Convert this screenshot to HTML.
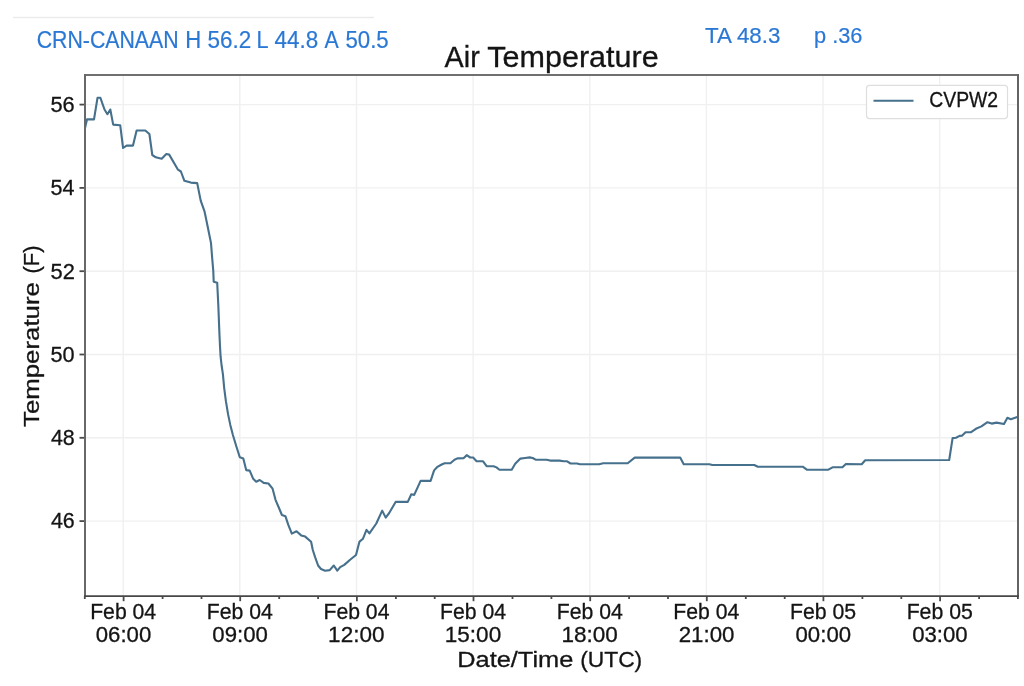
<!DOCTYPE html>
<html><head><meta charset="utf-8"><style>
html,body{margin:0;padding:0;background:#fff;width:1024px;height:686px;overflow:hidden}
svg{display:block;filter:blur(0.45px)}
text{font-family:"Liberation Sans",sans-serif}
</style></head><body>
<svg width="1024" height="686" viewBox="0 0 1024 686">
<rect width="1024" height="686" fill="#fff"/>
<line x1="13" y1="17.6" x2="374" y2="17.6" stroke="#ebebeb" stroke-width="1.5"/>
<g stroke="#f0f0f0" stroke-width="1.4"><line x1="85" y1="104.6" x2="1018" y2="104.6"/><line x1="85" y1="187.9" x2="1018" y2="187.9"/><line x1="85" y1="271.2" x2="1018" y2="271.2"/><line x1="85" y1="354.5" x2="1018" y2="354.5"/><line x1="85" y1="437.8" x2="1018" y2="437.8"/><line x1="85" y1="521.1" x2="1018" y2="521.1"/><line x1="123.2" y1="75" x2="123.2" y2="596"/><line x1="239.8" y1="75" x2="239.8" y2="596"/><line x1="356.5" y1="75" x2="356.5" y2="596"/><line x1="473.1" y1="75" x2="473.1" y2="596"/><line x1="589.8" y1="75" x2="589.8" y2="596"/><line x1="706.4" y1="75" x2="706.4" y2="596"/><line x1="823.0" y1="75" x2="823.0" y2="596"/><line x1="939.7" y1="75" x2="939.7" y2="596"/></g>
<path d="M85.0,128.0 L87.0,119.4 L94.0,119.4 L97.5,97.8 L100.4,97.8 L104.5,109.5 L107.4,114.2 L110.3,109.5 L113.2,124.6 L120.2,125.2 L123.1,148.0 L126.6,145.6 L133.0,145.6 L136.6,130.5 L145.3,130.5 L149.4,134.0 L152.3,155.0 L155.8,157.3 L161.7,158.7 L166.3,154.0 L169.2,154.6 L178.0,169.7 L180.9,171.5 L184.4,180.8 L190.8,182.6 L197.2,183.1 L200.7,200.6 L204.6,211.7 L207.5,225.7 L211.0,243.1 L212.2,258.3 L213.3,271.1 L213.7,281.7 L217.2,282.8 L218.3,305.0 L219.4,333.1 L220.0,346.2 L220.6,356.7 L221.6,365.5 L222.9,374.2 L224.2,388.1 L225.9,401.2 L228.1,414.4 L230.3,424.9 L232.9,435.0 L236.3,446.2 L239.8,457.2 L243.3,458.4 L246.2,470.1 L249.7,470.6 L253.2,478.8 L256.2,481.7 L259.7,480.0 L263.7,482.9 L268.4,483.5 L272.6,488.7 L275.5,499.8 L279.0,508.0 L281.9,515.0 L285.4,516.2 L288.3,524.9 L291.8,533.6 L296.5,531.3 L301.2,535.4 L305.2,536.6 L311.1,541.8 L312.8,550.0 L315.2,557.3 L318.1,565.5 L321.0,569.0 L325.1,570.7 L329.7,570.1 L333.8,565.5 L337.3,570.7 L340.2,567.2 L344.3,564.9 L350.1,559.7 L356.0,555.0 L359.5,541.6 L363.0,538.7 L366.5,529.9 L369.4,533.4 L376.3,523.5 L382.2,510.6 L385.7,517.6 L389.2,513.0 L395.6,501.9 L407.8,501.9 L411.3,494.3 L414.2,494.9 L420.6,480.9 L430.6,480.9 L434.1,470.4 L437.0,467.2 L441.7,464.5 L444.6,463.3 L450.4,463.3 L454.5,459.8 L457.4,458.4 L463.8,458.1 L466.7,455.2 L470.2,457.5 L473.1,457.5 L476.6,461.3 L483.1,461.3 L486.6,466.2 L493.6,466.2 L496.5,467.4 L499.4,469.7 L511.7,469.7 L515.2,463.8 L520.4,458.6 L525.1,458.0 L529.7,457.4 L532.7,458.0 L535.6,459.7 L546.6,459.7 L550.1,460.6 L559.5,460.6 L563.6,461.3 L567.1,461.3 L570.6,463.5 L577.0,463.5 L579.9,464.2 L599.2,464.2 L603.2,463.2 L627.7,463.2 L634.7,457.6 L680.2,457.6 L683.7,464.2 L709.4,464.2 L712.3,465.0 L754.3,465.0 L757.8,466.7 L802.7,466.7 L806.8,469.7 L828.4,469.7 L832.5,467.3 L842.4,467.3 L845.9,464.0 L861.7,464.2 L865.2,460.3 L949.2,460.0 L952.6,438.1 L956.0,437.7 L959.5,435.9 L962.2,435.6 L965.6,432.2 L971.1,432.2 L975.9,428.8 L981.4,426.4 L987.5,422.2 L991.7,423.6 L996.5,422.6 L1004.0,424.0 L1007.4,417.8 L1010.8,419.2 L1018.0,416.7" fill="none" stroke="#46708c" stroke-width="2.1" stroke-linejoin="round"/>
<rect x="866.5" y="85.4" width="141" height="33.2" rx="3" fill="#fff" stroke="#dedede" stroke-width="1.2"/>
<line x1="873.5" y1="100.7" x2="913.5" y2="100.7" stroke="#46708c" stroke-width="2.1"/>
<g stroke="#4a4a4a" stroke-width="1.8"><line x1="79.5" y1="104.6" x2="85" y2="104.6"/><line x1="79.5" y1="187.9" x2="85" y2="187.9"/><line x1="79.5" y1="271.2" x2="85" y2="271.2"/><line x1="79.5" y1="354.5" x2="85" y2="354.5"/><line x1="79.5" y1="437.8" x2="85" y2="437.8"/><line x1="79.5" y1="521.1" x2="85" y2="521.1"/><line x1="123.6" y1="596" x2="123.6" y2="601.2"/><line x1="240.2" y1="596" x2="240.2" y2="601.2"/><line x1="356.9" y1="596" x2="356.9" y2="601.2"/><line x1="473.5" y1="596" x2="473.5" y2="601.2"/><line x1="590.2" y1="596" x2="590.2" y2="601.2"/><line x1="706.8" y1="596" x2="706.8" y2="601.2"/><line x1="823.4" y1="596" x2="823.4" y2="601.2"/><line x1="940.1" y1="596" x2="940.1" y2="601.2"/><line x1="84.8" y1="596" x2="84.8" y2="599.0"/><line x1="162.6" y1="596" x2="162.6" y2="599.0"/><line x1="201.5" y1="596" x2="201.5" y2="599.0"/><line x1="279.2" y1="596" x2="279.2" y2="599.0"/><line x1="318.1" y1="596" x2="318.1" y2="599.0"/><line x1="395.9" y1="596" x2="395.9" y2="599.0"/><line x1="434.7" y1="596" x2="434.7" y2="599.0"/><line x1="512.5" y1="596" x2="512.5" y2="599.0"/><line x1="551.4" y1="596" x2="551.4" y2="599.0"/><line x1="629.1" y1="596" x2="629.1" y2="599.0"/><line x1="668.0" y1="596" x2="668.0" y2="599.0"/><line x1="745.8" y1="596" x2="745.8" y2="599.0"/><line x1="784.7" y1="596" x2="784.7" y2="599.0"/><line x1="862.4" y1="596" x2="862.4" y2="599.0"/><line x1="901.3" y1="596" x2="901.3" y2="599.0"/><line x1="979.1" y1="596" x2="979.1" y2="599.0"/><line x1="1017.9" y1="596" x2="1017.9" y2="599.0"/></g>
<g stroke-width="2" stroke-linecap="square"><line x1="85" y1="75" x2="1018" y2="75" stroke="#707070"/><line x1="85" y1="75" x2="85" y2="596" stroke="#686868"/><line x1="1018" y1="75" x2="1018" y2="596" stroke="#646464"/><line x1="85" y1="596.2" x2="1018" y2="596.2" stroke="#474747" stroke-width="1.8"/></g>
<text x="36.69" y="47.50" font-size="23" fill="#2a78d4" stroke="#2a78d4" stroke-width="0.2" textLength="141.91" lengthAdjust="spacingAndGlyphs">CRN-CANAAN</text><text x="185.37" y="47.50" font-size="23" fill="#2a78d4" stroke="#2a78d4" stroke-width="0.2" textLength="15.96" lengthAdjust="spacingAndGlyphs">H</text><text x="207.52" y="47.50" font-size="23" fill="#2a78d4" stroke="#2a78d4" stroke-width="0.2" textLength="43.72" lengthAdjust="spacingAndGlyphs">56.2</text><text x="256.51" y="47.50" font-size="23" fill="#2a78d4" stroke="#2a78d4" stroke-width="0.2" textLength="12.03" lengthAdjust="spacingAndGlyphs">L</text><text x="274.41" y="47.50" font-size="23" fill="#2a78d4" stroke="#2a78d4" stroke-width="0.2" textLength="43.73" lengthAdjust="spacingAndGlyphs">44.8</text><text x="324.61" y="47.50" font-size="23" fill="#2a78d4" stroke="#2a78d4" stroke-width="0.2" textLength="14.23" lengthAdjust="spacingAndGlyphs">A</text><text x="345.43" y="47.50" font-size="23" fill="#2a78d4" stroke="#2a78d4" stroke-width="0.2" textLength="43.30" lengthAdjust="spacingAndGlyphs">50.5</text><text x="705.00" y="43.10" font-size="22" fill="#2a78d4" stroke="#2a78d4" stroke-width="0.2" textLength="75.41" lengthAdjust="spacingAndGlyphs">TA 48.3</text><text x="814.01" y="43.10" font-size="22" fill="#2a78d4" stroke="#2a78d4" stroke-width="0.2" textLength="48.51" lengthAdjust="spacingAndGlyphs">p .36</text><text x="444.60" y="67.00" font-size="29" fill="#141414" stroke="#141414" stroke-width="0.3" textLength="35.14" lengthAdjust="spacingAndGlyphs">Air</text><text x="487.26" y="67.00" font-size="29" fill="#141414" stroke="#141414" stroke-width="0.3" textLength="171.41" lengthAdjust="spacingAndGlyphs">Temperature</text><text x="929.21" y="106.90" font-size="21.5" fill="#141414" stroke="#141414" stroke-width="0.3" textLength="68.95" lengthAdjust="spacingAndGlyphs">CVPW2</text><text x="50.51" y="111.90" font-size="22" fill="#141414" stroke="#141414" stroke-width="0.3" textLength="24.25" lengthAdjust="spacingAndGlyphs">56</text><text x="50.52" y="195.20" font-size="22" fill="#141414" stroke="#141414" stroke-width="0.3" textLength="23.94" lengthAdjust="spacingAndGlyphs">54</text><text x="50.50" y="278.50" font-size="22" fill="#141414" stroke="#141414" stroke-width="0.3" textLength="24.36" lengthAdjust="spacingAndGlyphs">52</text><text x="50.51" y="361.80" font-size="22" fill="#141414" stroke="#141414" stroke-width="0.3" textLength="24.15" lengthAdjust="spacingAndGlyphs">50</text><text x="50.91" y="445.10" font-size="22" fill="#141414" stroke="#141414" stroke-width="0.3" textLength="23.83" lengthAdjust="spacingAndGlyphs">48</text><text x="50.91" y="528.40" font-size="22" fill="#141414" stroke="#141414" stroke-width="0.3" textLength="23.83" lengthAdjust="spacingAndGlyphs">46</text><text x="90.17" y="619.07" font-size="22" fill="#141414" stroke="#141414" stroke-width="0.3" textLength="66.00" lengthAdjust="spacingAndGlyphs">Feb 04</text><text x="95.69" y="641.80" font-size="22" fill="#141414" stroke="#141414" stroke-width="0.3" textLength="55.57" lengthAdjust="spacingAndGlyphs">06:00</text><text x="206.81" y="619.07" font-size="22" fill="#141414" stroke="#141414" stroke-width="0.3" textLength="66.00" lengthAdjust="spacingAndGlyphs">Feb 04</text><text x="212.33" y="641.80" font-size="22" fill="#141414" stroke="#141414" stroke-width="0.3" textLength="55.57" lengthAdjust="spacingAndGlyphs">09:00</text><text x="323.45" y="619.07" font-size="22" fill="#141414" stroke="#141414" stroke-width="0.3" textLength="66.00" lengthAdjust="spacingAndGlyphs">Feb 04</text><text x="328.14" y="641.80" font-size="22" fill="#141414" stroke="#141414" stroke-width="0.3" textLength="56.42" lengthAdjust="spacingAndGlyphs">12:00</text><text x="440.09" y="619.07" font-size="22" fill="#141414" stroke="#141414" stroke-width="0.3" textLength="66.00" lengthAdjust="spacingAndGlyphs">Feb 04</text><text x="444.78" y="641.80" font-size="22" fill="#141414" stroke="#141414" stroke-width="0.3" textLength="56.42" lengthAdjust="spacingAndGlyphs">15:00</text><text x="556.73" y="619.07" font-size="22" fill="#141414" stroke="#141414" stroke-width="0.3" textLength="66.00" lengthAdjust="spacingAndGlyphs">Feb 04</text><text x="561.42" y="641.80" font-size="22" fill="#141414" stroke="#141414" stroke-width="0.3" textLength="56.42" lengthAdjust="spacingAndGlyphs">18:00</text><text x="673.37" y="619.07" font-size="22" fill="#141414" stroke="#141414" stroke-width="0.3" textLength="66.00" lengthAdjust="spacingAndGlyphs">Feb 04</text><text x="678.69" y="641.80" font-size="22" fill="#141414" stroke="#141414" stroke-width="0.3" textLength="55.78" lengthAdjust="spacingAndGlyphs">21:00</text><text x="790.00" y="619.07" font-size="22" fill="#141414" stroke="#141414" stroke-width="0.3" textLength="66.20" lengthAdjust="spacingAndGlyphs">Feb 05</text><text x="795.53" y="641.80" font-size="22" fill="#141414" stroke="#141414" stroke-width="0.3" textLength="55.57" lengthAdjust="spacingAndGlyphs">00:00</text><text x="906.64" y="619.07" font-size="22" fill="#141414" stroke="#141414" stroke-width="0.3" textLength="66.20" lengthAdjust="spacingAndGlyphs">Feb 05</text><text x="912.17" y="641.80" font-size="22" fill="#141414" stroke="#141414" stroke-width="0.3" textLength="55.57" lengthAdjust="spacingAndGlyphs">03:00</text><text x="457.22" y="667.30" font-size="22" fill="#141414" stroke="#141414" stroke-width="0.3" textLength="116.08" lengthAdjust="spacingAndGlyphs">Date/Time</text><text x="580.15" y="667.30" font-size="22" fill="#141414" stroke="#141414" stroke-width="0.3" textLength="62.07" lengthAdjust="spacingAndGlyphs">(UTC)</text><text transform="translate(38.9,426.4) rotate(-90)" x="-0.59" y="0" font-size="22" fill="#141414" stroke="#141414" stroke-width="0.3" textLength="144.86" lengthAdjust="spacingAndGlyphs">Temperature</text><text transform="translate(38.9,272.1) rotate(-90)" x="-1.39" y="0" font-size="22" fill="#141414" stroke="#141414" stroke-width="0.3" textLength="27.98" lengthAdjust="spacingAndGlyphs">(F)</text>
</svg>
</body></html>
